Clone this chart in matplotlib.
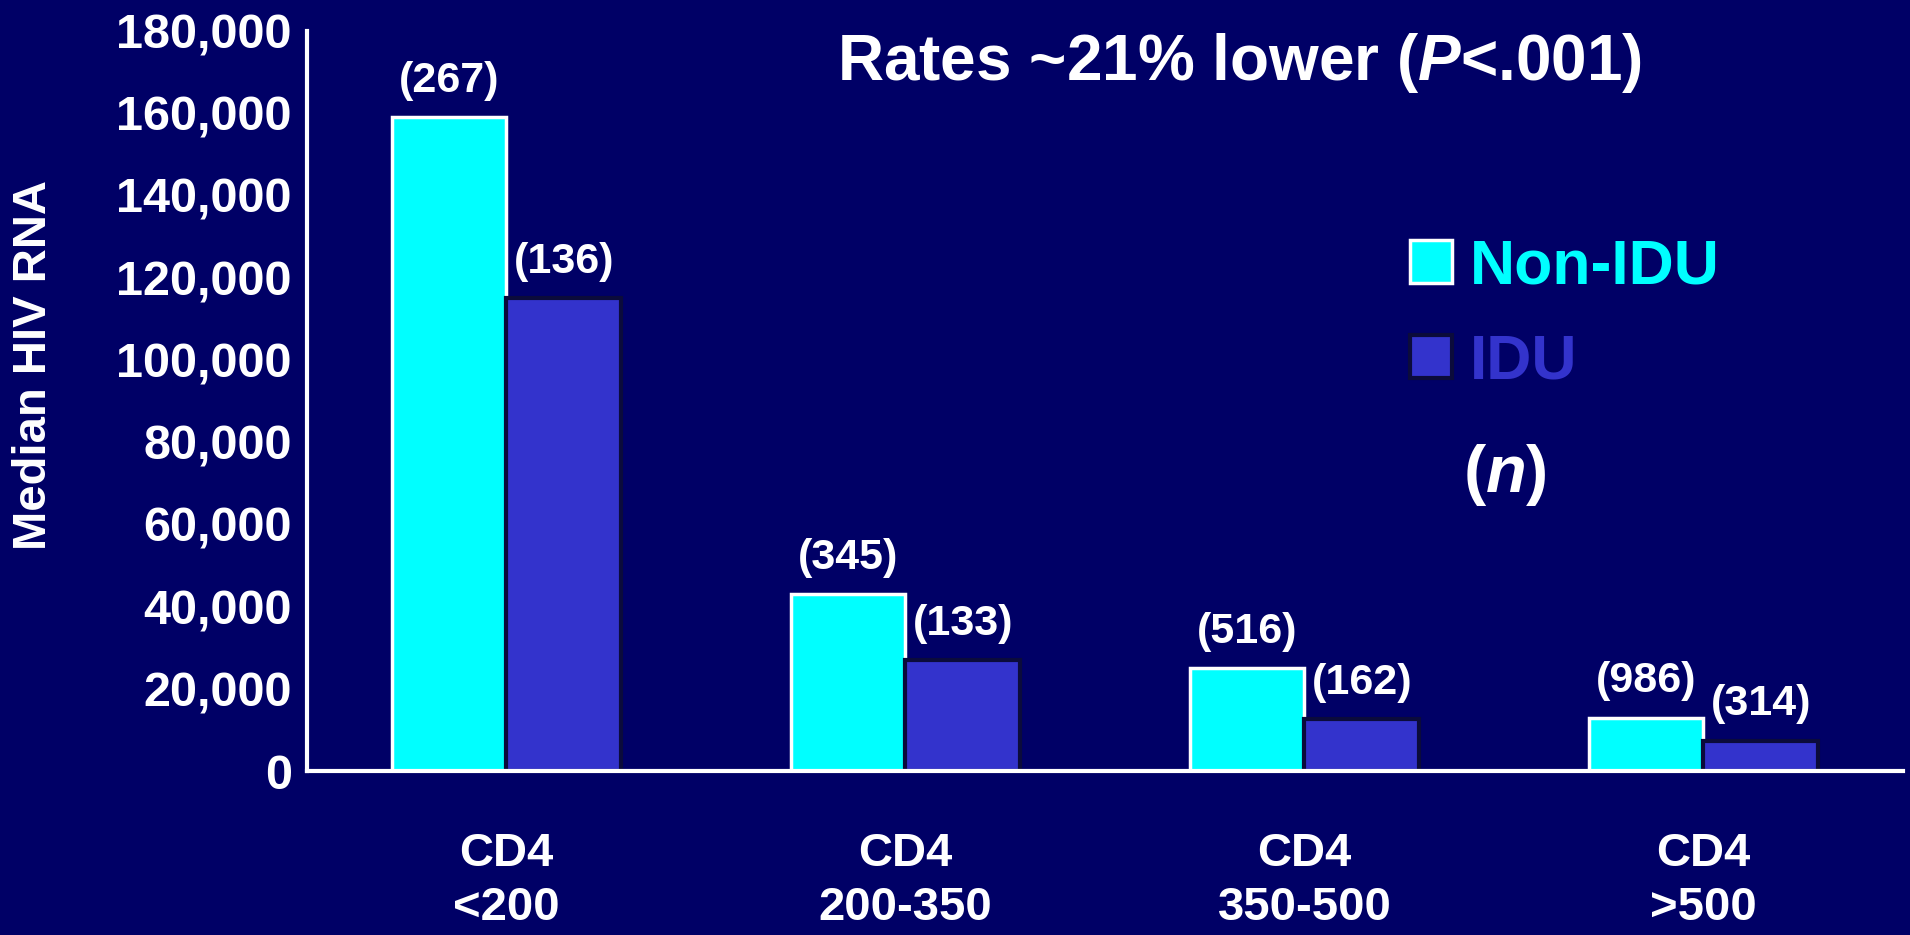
import numpy as np
import matplotlib
matplotlib.use("Agg")
from matplotlib import pyplot as plt
from matplotlib.ticker import FuncFormatter

BG = "#000066"
CYAN = "#00ffff"
IDU_BLUE = "#3333cc"
IDU_EDGE = "#0b0b3b"

categories = ["CD4\n<200", "CD4\n200-350", "CD4\n350-500", "CD4\n>500"]
non_idu = [159000, 43000, 25000, 13000]
idu = [115000, 27000, 12700, 7400]
n_non_idu = [267, 345, 516, 986]
n_idu = [136, 133, 162, 314]
yticks = list(range(0, 180001, 20000))

plt.rcParams['font.family'] = ['Liberation Sans', 'DejaVu Sans']
plt.rcParams['font.weight'] = 'bold'
plt.rcParams['mathtext.fontset'] = 'custom'
plt.rcParams['mathtext.it'] = 'Liberation Sans:italic:bold'
plt.rcParams['mathtext.rm'] = 'Liberation Sans:bold'


def main():
    fig = plt.figure(figsize=(19.1, 9.35), dpi=100, facecolor=BG)
    ax = fig.add_axes([0.1607, 0.1754, 0.8356, 0.7914], facecolor=BG)

    x = np.arange(len(categories))
    w = 0.287
    b1 = ax.bar(x - w / 2, non_idu, w, color=CYAN, edgecolor="white", linewidth=2.5, label="Non-IDU")
    b2 = ax.bar(x + w / 2, idu, w, color=IDU_BLUE, edgecolor=IDU_EDGE, linewidth=3, label="IDU")

    # sample sizes above the bars
    for bars, ns in ((b1, n_non_idu), (b2, n_idu)):
        for rect, n in zip(bars, ns):
            ax.annotate("({})".format(n), (rect.get_x() + rect.get_width() / 2, rect.get_height()),
                        xytext=(0, 26), textcoords="offset points", ha="center", va="center",
                        color="white", fontsize=31, fontweight="bold")

    ax.set_xlim(-0.5, 3.5)
    ax.set_ylim(0, 180000)
    ax.set_yticks(yticks)
    ax.yaxis.set_major_formatter(FuncFormatter(lambda v, p: "{:,.0f}".format(v)))
    ax.set_xticks(x)
    ax.set_xticklabels(categories, linespacing=1.3)
    ax.tick_params(axis="y", length=0, pad=11, labelsize=35, labelcolor="white")
    ax.tick_params(axis="x", length=0, pad=44, labelsize=34, labelcolor="white")

    for s in ("top", "right"):
        ax.spines[s].set_visible(False)
    for s in ("left", "bottom"):
        ax.spines[s].set_color("white")
        ax.spines[s].set_linewidth(3)

    fig.text(0.018, 0.61, "Median HIV RNA", rotation=90, ha="center", va="center",
             color="white", fontsize=34, fontweight="bold")
    fig.text(0.649, 0.933, r"Rates ~21% lower ($P$<.001)", ha="center", va="center",
             color="white", fontsize=46, fontweight="bold")

    leg = ax.legend(handles=[b1, b2], loc="upper left", bbox_to_anchor=(0.738, 0.746),
                    bbox_transform=fig.transFigure, frameon=False, fontsize=45,
                    labelcolor=[CYAN, IDU_BLUE], handlelength=0.68, handleheight=0.68,
                    handletextpad=0.28, labelspacing=0.58, borderpad=0, borderaxespad=0)
    for t in leg.get_texts():
        t.set_fontweight("bold")

    fig.text(0.788, 0.492, r"($n$)", ha="center", va="center", color="white",
             fontsize=48, fontweight="bold")

    fig.savefig("out.png", dpi=100, facecolor=BG)


if __name__ == "__main__":
    main()
